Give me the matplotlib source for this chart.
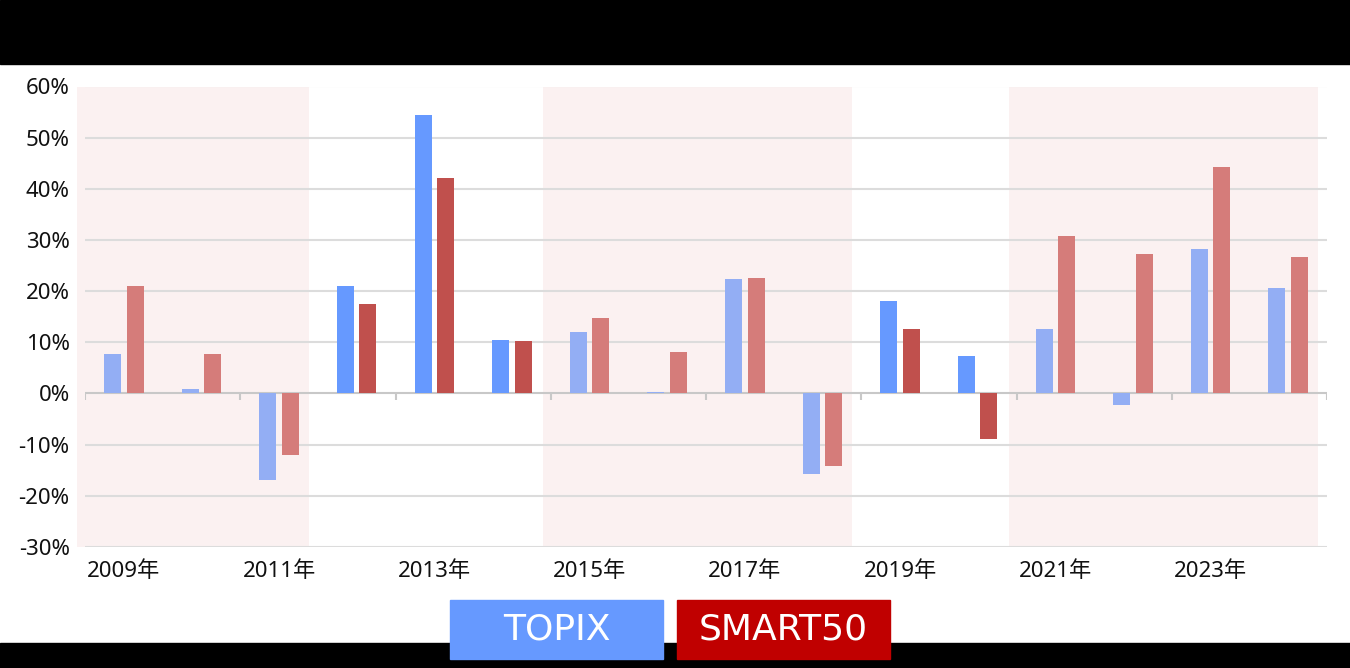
import matplotlib.pyplot as plt
import numpy as np
from matplotlib.patches import Rectangle

plt.rcParams["font.family"] = ["Noto Sans", "Noto Sans CJK JP", "DejaVu Sans"]

years = [str(y) for y in range(2009, 2025)]
topix = [7.7, 0.9, -16.9, 21.0, 54.4, 10.4, 12.1, 0.3, 22.3, -15.8, 18.1, 7.4, 12.7, -2.3, 28.2, 20.6]
smart50 = [21.0, 7.7, -12.0, 17.5, 42.1, 10.2, 14.7, 8.1, 22.6, -14.2, 12.7, -8.9, 30.7, 27.2, 44.3, 26.7]
shaded = [(0, 2), (6, 9), (12, 15)]  # first and last index of each shaded period

blue, blue_light = "#6699FF", "#93AEF4"
red, red_light = "#C0504D", "#D57C7A"

fig = plt.figure(figsize=(13.5, 6.68), dpi=100)
W, H = 1350, 668

# black bands top and bottom
fig.patches.append(Rectangle((0, 1 - 64 / H), 1, 64 / H, transform=fig.transFigure, color="black", zorder=0))
fig.patches.append(Rectangle((0, 0), 1, 25 / H, transform=fig.transFigure, color="black", zorder=0))

ax = fig.add_axes([85 / W, (H - 547) / H, (1327 - 85) / W, (547 - 86.5) / H])
ax.set_xlim(-0.5, len(years) - 0.5)
ax.set_ylim(-30, 60)

for a, b in shaded:
    ax.axvspan(a - 0.6, b + 0.38, color="#FBF1F1", zorder=0, lw=0, clip_on=False)

in_shade = np.array([any(a <= i <= b for a, b in shaded) for i in range(len(years))])
x = np.arange(len(years))
bw = 0.22
ax.bar(x - 0.145, topix, bw, color=np.where(in_shade, blue_light, blue), zorder=3)
ax.bar(x + 0.145, smart50, bw, color=np.where(in_shade, red_light, red), zorder=3)

yt = np.arange(-30, 61, 10)
ax.set_yticks(yt)
ax.set_yticklabels([f"{v}%" for v in yt])
for v in yt:
    if v != 0:
        ax.axhline(v, color="#DCDCDC", lw=1.5, zorder=1)
ax.axhline(0, color="#C8C8C8", lw=1.5, zorder=2)
ax.vlines(np.arange(-0.5, len(years), 2), -1.2, 0, color="#C8C8C8", lw=1.5, zorder=2)

ax.set_xticks(x[::2])
ax.set_xticklabels([f"{y}年" for y in years[::2]])
ax.tick_params(axis="x", length=0, pad=10, labelsize=16, labelcolor="#111111")
ax.tick_params(axis="y", length=0, pad=11, labelsize=16, labelcolor="#111111")
for s in ax.spines.values():
    s.set_visible(False)

# legend boxes
for label, color, x0 in [("TOPIX", blue, 450), ("SMART50", "#C00000", 677)]:
    fig.patches.append(Rectangle((x0 / W, (H - 659) / H), 213 / W, 59 / H,
                                 transform=fig.transFigure, color=color, zorder=5))
    fig.text((x0 + 106.5) / W, (H - 630) / H, label, color="white", fontsize=26,
             ha="center", va="center", zorder=6, family=["DejaVu Sans"])

fig.savefig("out.png", dpi=100, facecolor="white")
